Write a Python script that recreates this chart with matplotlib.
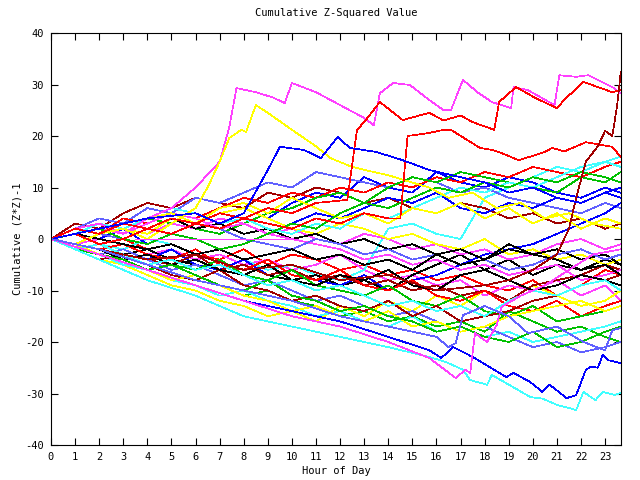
import numpy as np
import matplotlib
matplotlib.use("Agg")
import matplotlib.pyplot as plt

# gnuplot-ish palette
RED = '#ff0000'
GREEN = '#00c000'
BLUE = '#0000ff'
MAGENTA = '#ff40ff'
CYAN = '#40ffff'
DARKRED = '#a00000'
YELLOW = '#ffff00'
BLACK = '#000000'
SLATE = '#6060ff'

hours = [0, 1, 2, 3, 4, 5, 6, 7, 8, 9, 10, 11, 12, 13, 14, 15, 16, 17, 18, 19, 20, 21, 22, 23, 23.65]
xtick_labels = [str(h) for h in range(24)]
ytick_vals = [-40, -30, -20, -10, 0, 10, 20, 30, 40]

# hourly cumulative values, one list per series
g1 = [0, -2, -3, -5, -6, -8, -7, -9, -11, -10, -12, -13, -15, -14, -16, -15, -17, -16, -18, -14, -16, -18, -17, -19, -20]
b1 = [0, 2, 1, 3, 2, 4, 3, 5, 6, 4, 7, 9, 8, 12, 10, 9, 13, 11, 10, 12, 11, 9, 8, 10, 9]
m1 = [0, -1, -2, -1, -3, -2, -4, -3, -5, -4, -6, -5, -3, -6, -8, -7, -9, -8, -11, -9, -10, -8, -11, -9, -12]
c1 = [0, 1, -1, -2, 0, -1, -3, -2, -4, -6, -5, -7, -8, -6, 2, 3, 1, 0, 8, 10, 12, 14, 13, 15, 16]
d1 = [0, 3, 2, 5, 7, 6, 8, 7, 6, 9, 8, 10, 9, 7, 8, 6, 5, 7, 6, 4, 5, 3, 4, 2, 3]
y1 = [0, -2, -4, -5, -7, -9, -10, -12, -13, -15, -14, -16, -13, -15, -12, -14, -11, -13, -10, -12, -9, -11, -13, -12, -10]
k1 = [0, -1, -2, -3, -2, -4, -5, -6, -5, -7, -8, -7, -9, -8, -10, -7, -5, -3, -6, -4, -7, -5, -6, -4, -5]
s1 = [0, 2, 4, 3, 6, 5, 8, 7, 9, 11, 10, 13, 12, 11, 10, 12, 11, 9, 10, 8, 7, 6, 5, 7, 6]
r1 = [0, 1, -1, 0, -2, -1, -3, -4, -2, -5, -3, -4, -6, -5, -7, -6, -8, -7, -9, -10, -8, -11, -9, -6, -7]
g2 = [0, 1, 3, 2, 4, 3, 2, 1, 3, 5, 6, 8, 9, 7, 10, 12, 11, 13, 12, 11, 10, 9, 12, 11, 13]
b2 = [0, -2, -1, -3, -4, -2, -5, -6, -4, -7, -6, -8, -9, -7, -10, -8, -7, -5, -3, -2, -1, 1, 3, 5, 7]
m2 = [0, -1, 0, 2, 1, 3, 2, 4, 3, 1, 2, 0, -1, 1, 0, -2, -1, -3, -2, -4, -3, -1, 0, -2, -1]
c2 = [0, -2, -3, -5, -6, -8, -9, -11, -10, -12, -13, -15, -14, -16, -17, -15, -18, -17, -19, -18, -20, -19, -18, -17, -16]
d2 = [0, -1, -3, -2, -4, -5, -3, -6, -5, -7, -6, -8, -7, -9, -8, -10, -9, -11, -10, -12, -9, -8, -7, -5, -6]
y2 = [0, 1, 3, 2, 1, 4, 3, 5, 6, 4, 2, 1, 3, 2, 0, 1, -1, -2, 0, -3, -2, -4, -3, -5, -4]
k2 = [0, 2, 1, 3, 2, 4, 2, 3, 1, 2, 0, 1, -1, 0, -2, -1, -3, -2, -4, -1, -3, -2, -4, -3, -5]
s2 = [0, -1, -3, -2, -4, -6, -5, -7, -9, -8, -10, -12, -11, -13, -15, -14, -16, -18, -17, -19, -21, -20, -22, -21, -20]
r2 = [0, 2, 1, 4, 3, 5, 4, 6, 8, 7, 9, 8, 10, 9, 11, 10, 12, 11, 13, 12, 14, 13, 12, 14, 15]
g3 = [0, -1, -2, -4, -3, -5, -6, -4, -7, -8, -6, -9, -10, -11, -9, -12, -13, -11, -14, -15, -13, -16, -15, -14, -13]
b3 = [0, 1, 0, 2, -1, 1, 0, -2, -1, 1, 3, 5, 4, 6, 8, 7, 9, 6, 5, 7, 6, 8, 7, 9, 10]
m3 = [0, 1, 2, 1, 3, 5, 4, 2, 3, 1, 0, -1, -2, -4, -3, -5, -4, -6, -5, -7, -6, -5, -8, -7, -6]
c3 = [0, 1, 3, 2, 4, 6, 5, 3, 4, 2, 1, 3, 2, 5, 4, 6, 8, 10, 9, 11, 10, 12, 14, 15, 14]
d3 = [0, -2, -4, -3, -5, -7, -8, -6, -9, -10, -12, -11, -13, -14, -12, -15, -13, -16, -15, -14, -12, -11, -9, -8, -7]
y3 = [0, -1, -3, -4, -6, -8, -7, -9, -11, -12, -14, -13, -15, -16, -14, -17, -16, -18, -17, -15, -14, -13, -12, -14, -13]
k3 = [0, -1, -2, -4, -3, -5, -4, -6, -7, -5, -8, -9, -7, -8, -6, -9, -10, -7, -6, -8, -10, -9, -7, -8, -9]
s3 = [0, -1, 1, 0, 2, 1, 3, 2, 0, -1, -2, 0, -1, -3, -2, -4, -3, -5, -4, -6, -5, -3, -2, -4, -3]
r3 = [0, -1, -2, -1, -3, -4, -2, -5, -6, -4, -7, -8, -6, -9, -10, -8, -11, -12, -10, -13, -14, -12, -15, -13, -12]
g4 = [0, -2, -3, -4, -6, -5, -7, -9, -10, -8, -11, -12, -14, -13, -15, -16, -18, -17, -19, -20, -18, -21, -20, -18, -17]
c4 = [0, -2, -1, -3, -5, -4, -6, -5, -7, -9, -8, -10, -9, -11, -13, -12, -14, -13, -15, -12, -10, -11, -9, -8, -10]
k4 = [0, 1, 0, -1, -2, -1, -3, -2, -4, -3, -2, -4, -3, -5, -4, -6, -3, -5, -4, -2, -3, -4, -6, -5, -7]
y4 = [0, 2, 3, 1, 4, 5, 3, 6, 7, 5, 8, 6, 4, 5, 3, 6, 5, 7, 4, 6, 3, 5, 2, 4, 3]
g5 = [0, 1, 2, 0, -1, 1, 0, -2, -1, 1, 3, 2, 5, 7, 6, 8, 10, 9, 11, 10, 12, 11, 13, 12, 11]

hourly_series = [
    (r1, RED), (g1, GREEN), (b1, BLUE), (m1, MAGENTA), (c1, CYAN), (d1, DARKRED),
    (y1, YELLOW), (k1, BLACK), (s1, SLATE), (r2, RED), (g2, GREEN), (b2, BLUE),
    (m2, MAGENTA), (c2, CYAN), (d2, DARKRED), (y2, YELLOW), (k2, BLACK), (s2, SLATE),
    (r3, RED), (g3, GREEN), (b3, BLUE), (m3, MAGENTA), (c3, CYAN), (d3, DARKRED),
    (y3, YELLOW), (k3, BLACK), (s3, SLATE), (g4, GREEN), (c4, CYAN),
    (k4, BLACK), (y4, YELLOW), (g5, GREEN),
]

# series that stray far from the pack, with their own time stamps
mag_top_t = [0, 1, 2, 3, 4, 5, 6, 7, 7.4, 7.7, 8.5, 9.2, 9.7, 10, 11, 12, 13, 13.4, 13.65, 14.2, 14.9, 15.7,
             16.3, 16.6, 17.1, 17.7, 18.3, 19.1, 19.2, 19.8, 20.9, 21.1, 21.8, 22.3, 23.3, 23.65]
mag_top_v = [0, 2, 3, 1, 4, 6, 10, 15, 21.7, 29.3, 28.5, 27.5, 26.4, 30.3, 28.5, 26, 23.5, 22.1, 28.3, 30.3, 29.9, 27,
             25, 25, 30.9, 28.5, 26.6, 25.4, 29.5, 28.9, 26, 31.8, 31.5, 31.8, 29.5, 28.3]

yel_peak_t = [0, 1, 2, 3, 4, 5, 6, 6.5, 7, 7.4, 7.9, 8.1, 8.5, 9, 10, 11, 11.6, 12.5, 13.4, 14, 14.6, 15.7,
              16.5, 17.5, 18.5, 19.5, 20.5, 21.5, 22.5, 23.65]
yel_peak_v = [0, -1, 1, 2, 0, 3, 6, 10, 15, 19.6, 21.2, 20.8, 26, 24.5, 21.2, 18, 15.7, 14, 13, 12.4, 11.5, 10,
              8, 9, 6, 7, 4, 5, 3, 2]

red_top_t = [0, 1, 2, 3, 4, 5, 6, 7, 8, 9, 10, 11, 12.3, 12.7, 13, 13.65, 14.6, 15.7, 16.3, 17, 17.5, 18.4,
             18.6, 19.3, 20.1, 21, 21.3, 22.1, 22.7, 23.3, 23.65]
red_top_v = [0, 2, 1, 3, 2, 4, 3, 5, 4, 6, 5, 7, 7.6, 21.2, 22.7, 26.6, 23.1, 24.5, 23, 24, 22.7, 21.2,
             26.6, 29.5, 27.4, 25.4, 27, 30.5, 29.5, 28.5, 29]

red_mid_t = [0, 1, 2, 3, 4, 5, 6, 7, 8, 9, 10, 11, 12, 13, 14, 14.5, 14.8, 15.7, 16.3, 16.6, 17.8, 18.3,
             18.7, 19.4, 19.9, 20.5, 20.8, 21.3, 22.2, 23.3, 23.65]
red_mid_v = [0, 1, -1, 0, 2, 1, 3, 2, 4, 3, 2, 4, 3, 5, 4, 4, 20, 20.6, 21.2, 21.2, 17.7, 17.3,
             16.7, 15.3, 16, 16.9, 17.7, 17, 18.8, 17.9, 15.9]

dred_end_t = [0, 2, 4, 6, 8, 10, 12, 14, 16, 18, 19, 20, 21, 21.5, 21.8, 22.2, 22.7, 23, 23.3, 23.5, 23.65]
dred_end_v = [0, -2, -4, -3, -6, -5, -8, -7, -10, -9, -8, -6, -3, 2, 8, 15, 18, 21, 20, 26, 32.4]

blue_hi_t = [0, 2, 4, 6, 7, 8, 9, 9.5, 10.5, 11.2, 11.9, 12.4, 13.5, 14.6, 15.7, 17, 18, 19, 20, 21, 22, 23, 23.65]
blue_hi_v = [0, 2, 4, 5, 3, 5, 13.4, 17.9, 17.3, 15.7, 19.8, 17.7, 16.9, 15.3, 13.4, 12, 11, 9, 10, 8, 7, 9, 8]

cyan_low_t = [0, 2, 4, 6, 8, 10, 12, 14, 15.7, 16.4, 17.1, 17.4, 18.1, 18.3, 19.9, 20.4, 21.0, 21.8, 22.1,
              22.6, 22.9, 23.4, 23.65]
cyan_low_v = [0, -4, -8, -11, -15, -17, -19, -21, -22.9, -23.9, -25.4, -27.4, -28.3, -26.4, -30.7, -31, -32.2,
              -33.2, -29.7, -31.3, -29.7, -30.3, -29.9]

blue_low_t = [0, 2, 4, 6, 8, 10, 12, 14, 15.7, 16.2, 16.7, 17.5, 18.9, 19.2, 19.9, 20.4, 20.7, 21.4, 21.8,
              22.2, 22.4, 22.7, 22.9, 23.1, 23.65]
blue_low_v = [0, -3, -6, -9, -12, -14, -16, -19, -21.6, -23.1, -21, -22.9, -26.8, -26, -27.8, -29.7, -28.3,
              -30.9, -30.3, -25.4, -24.8, -25, -22.5, -23.5, -24.1]

mag_low_t = [0, 2, 4, 6, 8, 10, 12, 14, 15.7, 16.8, 17.2, 17.4, 17.6, 18.1, 18.5, 18.7, 19.5, 20.5, 21.5,
             22.5, 23.65]
mag_low_v = [0, -3, -6, -9, -12, -15, -17, -20, -23.1, -27, -25.4, -26, -18.3, -20, -16.7, -13.2, -11, -9,
             -6, -3, -2]

slate_low_t = [0, 2, 4, 6, 8, 10, 12, 14, 16, 16.5, 16.8, 17.1, 18, 19, 19.8, 21, 22.1, 23, 23.3, 23.65]
slate_low_v = [0, -2, -5, -8, -10, -12, -15, -17, -19, -21, -20.2, -14.8, -13, -15, -18.3, -17, -20, -21.6,
               -17.7, -17.3]

pink_zero_t = [3.5, 10]
pink_zero_v = [0, 0]

custom_series = [
    (mag_top_t, mag_top_v, MAGENTA), (yel_peak_t, yel_peak_v, YELLOW),
    (red_top_t, red_top_v, RED), (red_mid_t, red_mid_v, RED),
    (dred_end_t, dred_end_v, DARKRED), (blue_hi_t, blue_hi_v, BLUE),
    (cyan_low_t, cyan_low_v, CYAN), (blue_low_t, blue_low_v, BLUE),
    (mag_low_t, mag_low_v, MAGENTA), (slate_low_t, slate_low_v, SLATE),
    (pink_zero_t, pink_zero_v, MAGENTA),
]

font = 'DejaVu Sans Mono'
fs = 7.5
lw = 0.5

fig = plt.figure(figsize=(6.4, 4.8), dpi=100)
ax = fig.add_axes([51/640, 1-445/480, 570/640, 412/480])

for vals, col in hourly_series:
    ax.plot(hours, vals, color=col, lw=lw, antialiased=False)
for t, v, col in custom_series:
    ax.plot(t, v, color=col, lw=lw, antialiased=False)

ax.set_xlim(0, 23.66)
ax.set_ylim(-40, 40)
ax.set_xticks(range(24))
ax.set_xticklabels(xtick_labels, fontfamily=font, fontsize=fs)
ax.set_yticks(ytick_vals)
ax.set_yticklabels([str(v) for v in ytick_vals], fontfamily=font, fontsize=fs)
ax.tick_params(direction='in', top=True, right=True, length=5, width=0.8, pad=5)
for sp in ax.spines.values():
    sp.set_linewidth(0.8)

ax.set_title('Cumulative Z-Squared Value', fontfamily=font, fontsize=fs, pad=12)
ax.set_xlabel('Hour of Day', fontfamily=font, fontsize=fs, labelpad=3)
ax.set_ylabel('Cumulative (Z*Z)-1', fontfamily=font, fontsize=fs, labelpad=2)

fig.savefig('out.png', dpi=100)
